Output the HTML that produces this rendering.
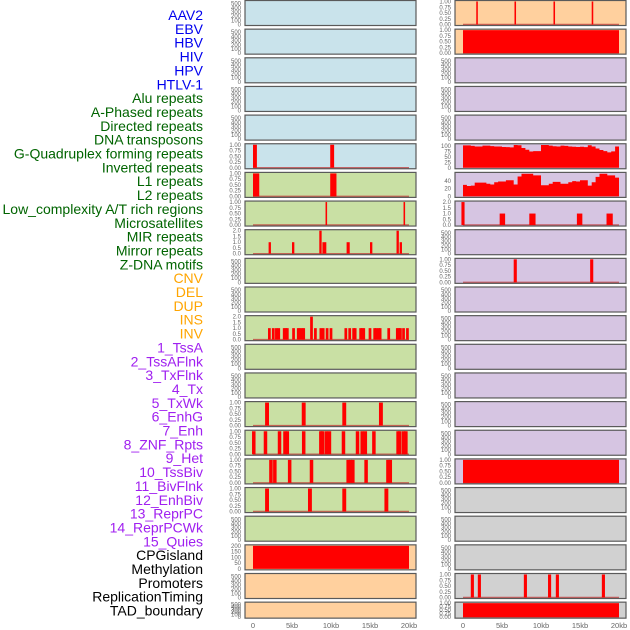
<!DOCTYPE html>
<html><head><meta charset="utf-8">
<style>
html,body{margin:0;padding:0;background:#fff;}
body{width:630px;height:630px;overflow:hidden;font-family:"Liberation Sans",sans-serif;}
</style></head>
<body>
<svg id="chart" width="630" height="630" xmlns="http://www.w3.org/2000/svg" style="display:block">
<g id="labels"></g>
<g id="panels"></g>
<g id="xaxis"></g>
</svg>
<script>
const labels=["AAV2","EBV","HBV","HIV","HPV","HTLV-1","Alu repeats","A-Phased repeats","Directed repeats","DNA transposons","G-Quadruplex forming repeats","Inverted repeats","L1 repeats","L2 repeats","Low_complexity A/T rich regions","Microsatellites","MIR repeats","Mirror repeats","Z-DNA motifs","CNV","DEL","DUP","INS","INV","1_TssA","2_TssAFlnk","3_TxFlnk","4_Tx","5_TxWk","6_EnhG","7_Enh","8_ZNF_Rpts","9_Het","10_TssBiv","11_BivFlnk","12_EnhBiv","13_ReprPC","14_ReprPCWk","15_Quies","CPGisland","Methylation","Promoters","ReplicationTiming","TAD_boundary"];
const labelColors=["#0000ee","#0000ee","#0000ee","#0000ee","#0000ee","#0000ee"].concat(Array(13).fill("#006400"),Array(5).fill("#ffa500"),Array(15).fill("#a020f0"),Array(5).fill("#000"));
const xTicks=[0,5,10,15,20];
const xTickLabels=["0","5kb","10kb","15kb","20kb"];
// bar positions (kb) per panel
const gquadBars=[[0,0.5,1],[9.9,10.4,1]];
const l1Bars=[[0,0.8,1],[9.9,10.7,1]];
const lowBars1=[[9.3,9.5,1],[19.3,19.5,1]];
const mirBars=[[2.0,2.3,1],[5.0,5.3,1],[8.5,8.8,2],[8.9,9.4,1],[12.0,12.4,1],[15.0,15.3,1],[18.4,18.7,2],[18.8,19.1,1]];
const insPos=[2.1,2.6,3.0,3.3,4.0,4.2,4.4,5.2,5.8,6.0,6.3,6.5,7.5,8.0,8.7,9.0,9.5,10.0,11.9,12.4,12.9,13.1,13.8,14.0,14.2,15.0,15.6,15.8,16.1,16.3,17.4,18.5,18.7,18.9,19.3,19.8];
const insVals=[1,1,1,1,1,1,1,1,1,1,1,1,2,1,1,1,1,1,1,1,1,1,1,1,1,1,1,1,1,1,1,1,1,1,1,1];
const txwkPos=[1.8,6.5,11.7,16.4];
const enhPos=[0.1,1.6,3.4,4.1,4.4,6.5,8.7,8.9,9.4,9.8,11.6,13.4,14.0,14.4,15.5,18.6,18.8,19.3,19.6];
const znfPos=[2.3,2.8,4.7,7.5,12.2,12.5,12.8,14.5,17.3,17.6];
const bivPos=[1.8,7.3,11.7,17.1];
const aav2Pos=[1.8,6.7,11.7,16.6];
const lowBars2=[[-0.2,0.2,2],[4.7,5.4,1],[8.5,9.3,1],[14.6,15.3,1],[18.4,19.2,1]];
const zdnaPos=[6.7,16.5];
const replPos=[1.2,2.1,8.0,11.1,12.1,18.0];
const l1Area=[102,102,100,97,97,101,101,99,97,97,95,94,93,104,103,90,82,74,76,76,104,104,101,98,97,101,100,97,96,95,96,94,103,97,88,81,76,70,75,97];
const l2Area=[30,27,28,36,36,36,33,31,37,39,39,42,42,31,52,59,59,59,55,55,29,29,33,38,38,33,33,37,40,39,42,42,28,37,51,59,59,55,55,49];

const BG={b:"#c9e3eb",g:"#c9e0a4",p:"#ffd09e",l:"#d6c5e2",y:"#d1d1d1"};
const T500=[0,100,200,300,400,500], T1=[0,0.25,0.5,0.75,1], T2=[0,0.5,1,1.5,2];
function bars(list,w){return list.map(p=>[p-w/2,p+w/2,1]);}
function valBars(pos,vals,w){return pos.map((p,i)=>[p-w/2,p+w/2,vals[i]]);}
// panel spec: [bg, max, ticks, tickfmt, segs, area]
const col1=[
["b",550,T500,0,null],["b",550,T500,0,null],["b",550,T500,0,null],["b",550,T500,0,null],["b",550,T500,0,null],
["b",1,T1,2,gquadBars],["g",1,T1,2,l1Bars],["g",1,T1,2,lowBars1],["g",2,T2,1,mirBars],
["g",550,T500,0,null],["g",550,T500,0,null],["g",2,T2,1,valBars(insPos,insVals,0.35)],
["g",550,T500,0,null],["g",550,T500,0,null],["g",1,T1,2,bars(txwkPos,0.5)],["g",1,T1,2,bars(enhPos,0.45)],
["g",1,T1,2,bars(znfPos,0.45)],["g",1,T1,2,bars(bivPos,0.5)],["g",550,T500,0,null],
["p",200,[0,50,100,150,200],0,[[0,20,200]]],["p",550,T500,0,null],["p",550,T500,0,null]];
const col2=[
["p",1,T1,2,bars(aav2Pos,0.2)],["p",1,T1,2,[[0,20,1]]],["l",550,T500,0,null],["l",550,T500,0,null],["l",550,T500,0,null],
["l",105,[0,25,50,75,100],0,null,l1Area],["l",60,[0,20,40],0,null,l2Area],["l",2,T2,1,lowBars2],["l",550,T500,0,null],
["l",1,T1,2,bars(zdnaPos,0.4)],["l",550,T500,0,null],["l",550,T500,0,null],["l",550,T500,0,null],["l",550,T500,0,null],
["l",550,T500,0,null],["l",550,T500,0,null],["l",1,T1,2,[[0,20,1]]],["y",550,T500,0,null],["y",550,T500,0,null],
["y",550,T500,0,null],["y",1,T1,2,bars(replPos,0.4)],["y",1,T1,2,[[0,20,1]]]];

const NS="http://www.w3.org/2000/svg";
function el(tag,attrs,parent){const e=document.createElementNS(NS,tag);for(const k in attrs)e.setAttribute(k,attrs[k]);parent.appendChild(e);return e;}
const gl=document.getElementById("labels");
labels.forEach((t,i)=>{
 const e=el("text",{x:203,y:15+i*13.85+5,"text-anchor":"end","font-size":"14",fill:labelColors[i]},gl);
 
 
 e.textContent=t;
});
const gp=document.getElementById("panels");
const cols=[{x0:245,x1:416,z:253},{x0:455,x1:626,z:463}];
const KB=7.8;
function drawCol(spec,c){
 spec.forEach((s,r)=>{
  const top=0.5+r*28.65, h=(r==21?16:25), bot=top+h;
  const g=el("g",{},gp);
  
  
  el("rect",{x:c.x0,y:top,width:c.x1-c.x0,height:h,fill:BG[s[0]]},g);
  const ymap=v=>bot-1-(v/s[1])*(h-2);
  const xmap=k=>c.z+k*KB;
  if(s[4]){
   if(s[1]<=2) el("line",{x1:xmap(0),x2:xmap(20),y1:bot-1,y2:bot-1,stroke:"#c03030","stroke-width":1.5,opacity:0.7},g);
   s[4].forEach(b=>{
    const br=el("rect",{x:xmap(b[0]),y:ymap(b[2]),width:Math.max(1,(b[1]-b[0])*KB),height:bot-1-ymap(b[2]),fill:"#ff0000"},g);
    
    
   });
  }
  if(s[5]){
   const a=s[5];let d="M"+xmap(0)+","+(bot-1);
   a.forEach((v,i)=>{d+=" L"+xmap(i*0.5)+","+ymap(v)+" L"+xmap(i*0.5+0.5)+","+ymap(v);});
   d+=" L"+xmap(20)+","+(bot-1)+"Z";
   const p=el("path",{d:d,fill:"#ff0000"},g);
   
   
  }
  el("rect",{x:c.x0,y:top,width:c.x1-c.x0,height:h,fill:"none",stroke:"#5a5a5a","stroke-width":1.2},g);
  s[2].forEach(t=>{
   const tx=el("text",{x:c.x0-4,y:ymap(t)+2,"text-anchor":"end","font-size":"6",fill:"#666"},g);
   
   
   tx.textContent=s[3]?t.toFixed(s[3]):String(t);
  });
 });
}
drawCol(col1,cols[0]);drawCol(col2,cols[1]);
const gx=document.getElementById("xaxis");
cols.forEach(c=>{xTicks.forEach((t,i)=>{
 const tx=el("text",{x:c.z+t*KB,y:628,"text-anchor":"middle","font-size":"7.5",fill:"#666"},gx);
 
 
 tx.textContent=xTickLabels[i];
});});
</script>
</body></html>
